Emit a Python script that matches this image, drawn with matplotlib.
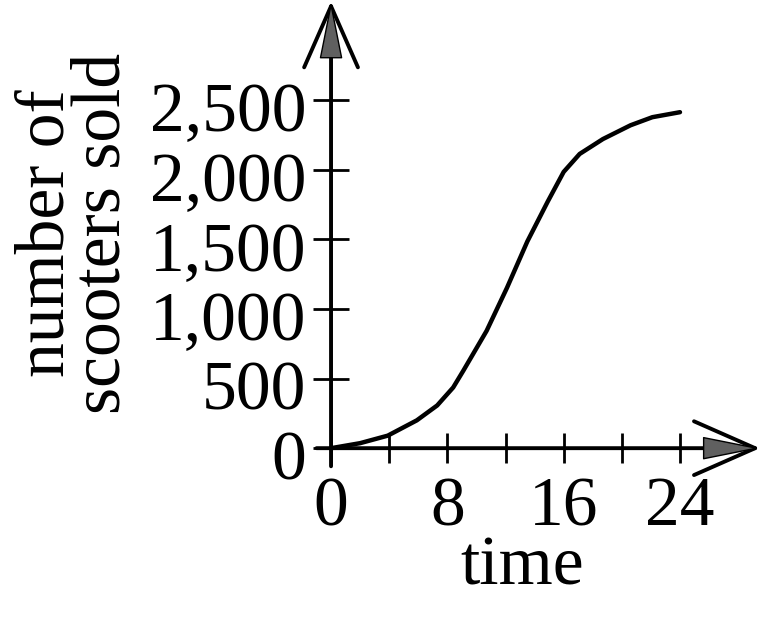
import matplotlib
matplotlib.use('Agg')
import matplotlib.pyplot as plt
from matplotlib.transforms import ScaledTranslation

# values
time = [0, 2, 3.9, 5.9, 7.3, 8.4, 9.1, 10.7, 12.1, 13.5, 14.9, 16, 17.1, 18.7, 20.6, 22.1, 24]
sold = [0, 36, 90, 200, 307, 436, 557, 843, 1152, 1485, 1771, 1985, 2114, 2221, 2320, 2378, 2414]

xticks = [0, 4, 8, 12, 16, 20, 24]
xticklabels = ['0', '', '8', '', '16', '', '24']
yticks = [0, 500, 1000, 1500, 2000, 2500]
yticklabels = ['0', '500', '1,000', '1,500', '2,000', '2,500']

plt.rcParams['font.family'] = 'Liberation Serif'
fs = 50

fig = plt.figure(figsize=(7.63, 6.33), dpi=100)
ax = fig.add_axes([0.411, 0.259, 0.585, 0.741])
ax.set_xlim(-1.2, 29.5)
ax.set_ylim(-150, 3220)

ax.plot(time, sold, color='black', lw=3.2, solid_capstyle='round', solid_joinstyle='round')

# ticks sit on the zero lines, spines themselves hidden (drawn as arrows below)
ax.spines['left'].set_position(('data', 0))
ax.spines['bottom'].set_position(('data', 0))
for s in ax.spines.values():
    s.set_color('none')

# axis lines with arrow heads: open chevron plus grey filled core
chev = dict(arrowstyle='->,head_length=1.0,head_width=0.44', lw=2.8, color='black',
            mutation_scale=44, shrinkA=0, shrinkB=0)
core = dict(arrowstyle='-|>,head_length=1.0,head_width=0.2', lw=1.0, color='black',
            fc='#606060', mutation_scale=38, shrinkA=0, shrinkB=0)
ax.annotate('', xy=(29.5, 0), xytext=(-1.0, 0), arrowprops=chev, annotation_clip=False)
ax.annotate('', xy=(29.5, 0), xytext=(26.0, 0), arrowprops=core, annotation_clip=False)
ax.annotate('', xy=(0, 3210), xytext=(0, -130), arrowprops=chev, annotation_clip=False)
ax.annotate('', xy=(0, 3210), xytext=(0, 2800), arrowprops=core, annotation_clip=False)

ax.set_xticks(xticks)
ax.set_xticklabels(xticklabels)
ax.set_yticks(yticks)
ax.set_yticklabels(yticklabels)
ax.tick_params(axis='x', direction='inout', length=21, width=2, pad=10, labelsize=fs)
ax.tick_params(axis='y', direction='inout', length=26, width=2, pad=5, labelsize=fs)

# the y labels sit a little below their ticks in the original
shift = ScaledTranslation(0, -5 / 72, fig.dpi_scale_trans)
for lab in ax.get_yticklabels():
    lab.set_transform(lab.get_transform() + shift)

fig.text(0.098, 0.632, 'number of\nscooters sold', rotation=90, ha='center', va='center',
         multialignment='center', fontsize=fs, linespacing=0.85)
fig.text(0.685, 0.103, 'time', ha='center', va='center', fontsize=fs)

fig.savefig('out.png', dpi=100, facecolor='white')
